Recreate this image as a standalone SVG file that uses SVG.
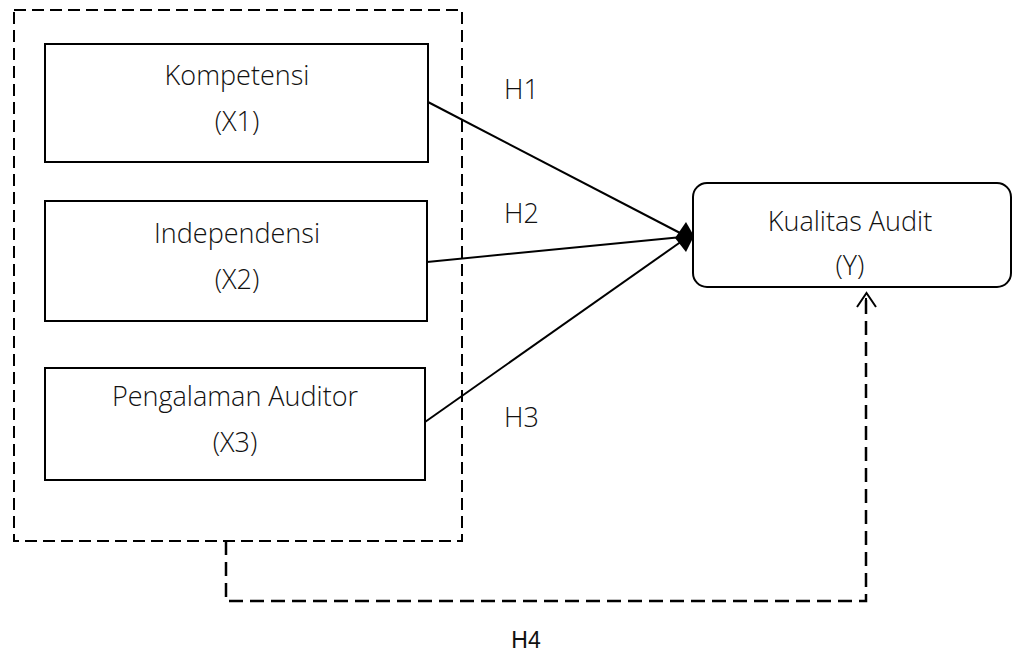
<svg xmlns="http://www.w3.org/2000/svg" width="1013" height="652" viewBox="0 0 1013 652">
<style>
.box{fill:#fff;stroke:#000;stroke-width:2}
.t{font-family:"Open Sans","Liberation Sans",sans-serif;font-weight:300;font-size:27px;fill:#111;text-anchor:middle}
.h{font-family:"Open Sans","Liberation Sans",sans-serif;font-weight:300;font-size:27px;fill:#111}
.dash{fill:none;stroke:#000;stroke-width:2;stroke-dasharray:12 6}
.dash2{fill:none;stroke:#000;stroke-width:2.5;stroke-dasharray:14 7}
.ln{stroke:#000;stroke-width:2;fill:none}
</style>
<rect width="1013" height="652" fill="#fff"/>
<g id="group-box">
<rect class="dash" x="14" y="10" width="448" height="531"/>
</g>
<g id="kompetensi">
<rect class="box" x="45" y="44" width="383" height="118"/>
<text class="t" x="237" y="85">Kompetensi</text>
<text class="t" x="237" y="131">(X1)</text>
</g>
<g id="independensi">
<rect class="box" x="45" y="201" width="382" height="120"/>
<text class="t" x="237" y="243">Independensi</text>
<text class="t" x="237" y="289">(X2)</text>
</g>
<g id="pengalaman">
<rect class="box" x="45" y="368" width="380" height="112"/>
<text class="t" x="235" y="406">Pengalaman Auditor</text>
<text class="t" x="235" y="452">(X3)</text>
</g>
<g id="kualitas">
<rect class="box" x="693" y="183" width="318" height="104" rx="14"/>
<text class="t" x="850" y="231">Kualitas Audit</text>
<text class="t" x="850" y="275">(Y)</text>
</g>
<g id="connectors">
<line class="ln" x1="428" y1="102" x2="682" y2="234"/>
<line class="ln" x1="427" y1="262" x2="682" y2="237"/>
<line class="ln" x1="425" y1="422" x2="682" y2="241"/>
<polygon points="675,238 686,222 694,236 686,252" fill="#000"/>
<polyline class="dash2" points="226,541 226,601 866,601 866,300"/>
<line class="ln" x1="866" y1="298" x2="866" y2="308"/>
<polyline class="ln" points="857,307 866.5,293 876,307"/>
<text class="h" x="504" y="99">H1</text>
<text class="h" x="504" y="223">H2</text>
<text class="h" x="504" y="427">H3</text>
<text x="526" y="648" font-family="'Liberation Sans',sans-serif" font-size="23" fill="#111" text-anchor="middle">H4</text>
</g>
</svg>
